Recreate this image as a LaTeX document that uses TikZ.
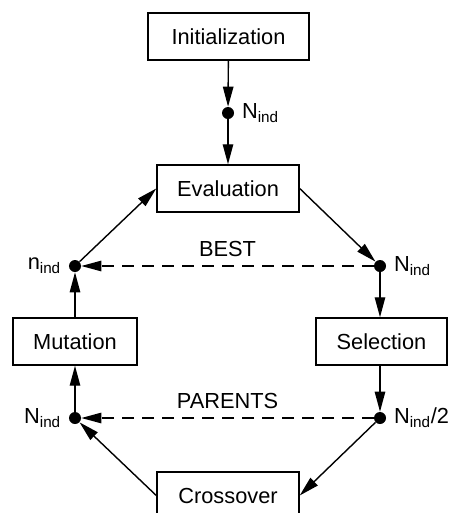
\documentclass[tikz,border=0pt]{standalone}
\usepackage{fontspec}
\setmainfont{Liberation Sans}
\usetikzlibrary{arrows.meta}

\begin{document}
\begin{tikzpicture}[x=0.025cm, y=-0.025cm, every node/.style={font=\fontsize{15.5}{18}\selectfont}, box/.style={draw,line width=1pt,minimum height=1.175cm,inner sep=0pt}, dot/.style={circle,fill=black,inner sep=0pt,minimum size=0.3cm}, flow/.style={line width=1pt,-{Triangle[length=0.5cm,width=0.26cm]}}, back/.style={flow,dash pattern=on 0.3cm off 0.2cm}]
\path[use as bounding box, clip] (0,0) rectangle (454,513);
% operators
\node[box,minimum width=4.025cm] (init) at (228.5,36.5) {Initialization};
\node[box,minimum width=3.55cm] (eval) at (228,188.5) {Evaluation};
\node[box,minimum width=3.1cm] (mut) at (75,341.5) {Mutation};
\node[box,minimum width=3.275cm] (sel) at (381.5,341.5) {Selection};
\node[box,minimum width=3.55cm] (cross) at (228,495.5) {Crossover};
% populations
\node[dot,label={[label distance=2pt]right:N\textsubscript{ind}}] (p0) at (228,113) {};
\node[dot,label={[label distance=2pt]left:n\textsubscript{ind}}] (best) at (75,266) {};
\node[dot,label={[label distance=2pt]right:N\textsubscript{ind}}] (pop) at (380,266) {};
\node[dot,label={[label distance=2pt]left:N\textsubscript{ind}}] (kids) at (75,418) {};
\node[dot,label={[label distance=2pt]right:N\textsubscript{ind}/2}] (par) at (380,418) {};
% loop
\draw[flow] (init) -- (p0);
\draw[flow] (p0) -- (eval);
\draw[flow] (eval.east) -- (pop);
\draw[flow] (pop) -- (sel.north -| pop);
\draw[flow] (sel.south -| par) -- (par);
\draw[flow] (par) -- (cross.east);
\draw[flow] (cross.west) -- (kids);
\draw[flow] (kids) -- (mut.south);
\draw[flow] (mut.north) -- (best);
\draw[flow] (best) -- (eval.west);
% elitism / parents
\draw[back] (pop) -- (best) node[midway,above=3pt] {BEST};
\draw[back] (par) -- (kids) node[midway,above=3pt] {PARENTS};
\end{tikzpicture}
\end{document}
